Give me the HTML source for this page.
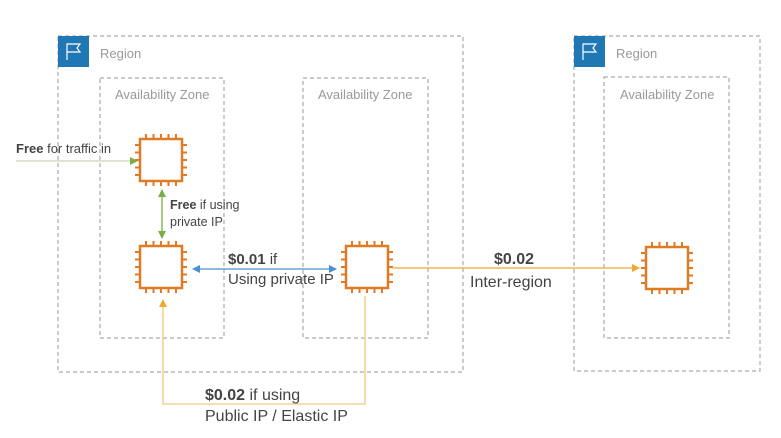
<!DOCTYPE html>
<html><head><meta charset="utf-8"><style>
body{margin:0;background:#fff;}
svg{display:block;font-family:"Liberation Sans",sans-serif;}
</style></head><body>
<svg width="781" height="438" viewBox="0 0 781 438">
<defs>
<marker id="ag" markerWidth="8" markerHeight="8" refX="7" refY="4" orient="auto-start-reverse" markerUnits="userSpaceOnUse"><path d="M0,0 L8,4 L0,8z" fill="#7aad45"/></marker>
<marker id="ab" markerWidth="8" markerHeight="8" refX="7" refY="4" orient="auto-start-reverse" markerUnits="userSpaceOnUse"><path d="M0,0 L8,4 L0,8z" fill="#4a90d0"/></marker>
<marker id="ao" markerWidth="8" markerHeight="8" refX="7" refY="4" orient="auto-start-reverse" markerUnits="userSpaceOnUse"><path d="M0,0 L8,4 L0,8z" fill="#f0a830"/></marker>
</defs>
<g fill="none" stroke="#aaa" stroke-width="1.2" stroke-dasharray="4,3">
<rect x="58" y="36" width="405" height="336"/>
<rect x="100" y="78" width="124" height="260"/>
<rect x="303" y="78" width="125" height="260"/>
<rect x="574" y="36" width="186" height="335"/>
<rect x="604" y="77" width="125" height="261"/>
</g>
<g><rect x="58" y="36" width="31" height="31" fill="#1f78b4"/><path d="M67,60 V44 H80 L77,48 L80,52 H67" stroke="#fff" fill="none" stroke-width="1.2"/></g>
<g><rect x="574" y="36" width="31" height="31" fill="#1f78b4"/><path d="M583,60 V44 H596 L593,48 L596,52 H583" stroke="#fff" fill="none" stroke-width="1.2"/></g>
<g fill="#999" font-size="13">
<text x="100" y="58">Region</text>
<text x="616" y="58">Region</text>
<text x="115" y="99">Availability Zone</text>
<text x="318" y="99">Availability Zone</text>
<text x="620" y="99">Availability Zone</text>
</g>
<g id="chips"></g>
<line x1="16" y1="161" x2="137" y2="161" stroke="#c9d4b8" stroke-width="1.3" marker-end="url(#ag)"/>
<line x1="162" y1="190" x2="162" y2="238" stroke="#7aad45" stroke-width="1.3" marker-start="url(#ag)" marker-end="url(#ag)"/>
<line x1="193" y1="269" x2="336" y2="269" stroke="#4a90d0" stroke-width="1.3" marker-start="url(#ab)" marker-end="url(#ab)"/>
<line x1="392" y1="268" x2="639" y2="268" stroke="#f0a830" stroke-width="1.3" marker-end="url(#ao)"/>
<polyline points="365,296 365,404 163,404 163,300" fill="none" stroke="#f2c87a" stroke-width="1.3" marker-end="url(#ao)"/>
<g fill="#444">
<text x="16" y="153" font-size="13"><tspan font-weight="bold">Free</tspan> for traffic in</text>
<text x="170" y="209" font-size="12.5"><tspan font-weight="bold">Free</tspan> if using</text>
<text x="170" y="226" font-size="12.5">private IP</text>
<text x="228" y="264" font-size="15"><tspan font-weight="bold">$0.01</tspan> if</text>
<text x="228" y="284" font-size="15">Using private IP</text>
<text x="494" y="264" font-size="16" font-weight="bold">$0.02</text>
<text x="470" y="287" font-size="16">Inter-region</text>
<text x="205" y="400" font-size="16"><tspan font-weight="bold">$0.02</tspan> if using</text>
<text x="205" y="421" font-size="16">Public IP / Elastic IP</text>
</g>
</svg>
<script>
const chipNames=['ec2-instance-1','ec2-instance-2','ec2-instance-3','ec2-instance-4'];
const chipX=[161,161,367,667];
const chipY=[160,267,267,268];
const g=document.getElementById('chips');
const NS='http://www.w3.org/2000/svg';
for(let i=0;i<chipX.length;i++){
  const cx=chipX[i],cy=chipY[i],h=21;
  const grp=document.createElementNS(NS,'g');
  
  
  let d='';
  for(let k=-2;k<=2;k++){
    const o=k*7.5;
    d+=`M${cx+o},${cy-h}v-5M${cx+o},${cy+h}v5M${cx-h},${cy+o}h-5M${cx+h},${cy+o}h5`;
  }
  const p=document.createElementNS(NS,'path');
  p.setAttribute('d',d);p.setAttribute('stroke','#e07b24');p.setAttribute('stroke-width','2');
  grp.appendChild(p);
  const r=document.createElementNS(NS,'rect');
  r.setAttribute('x',cx-h);r.setAttribute('y',cy-h);r.setAttribute('width',2*h);r.setAttribute('height',2*h);
  r.setAttribute('fill','#fff');r.setAttribute('stroke','#e07b24');r.setAttribute('stroke-width','2.5');
  grp.appendChild(r);
  g.appendChild(grp);
}
</script>
</body></html>
